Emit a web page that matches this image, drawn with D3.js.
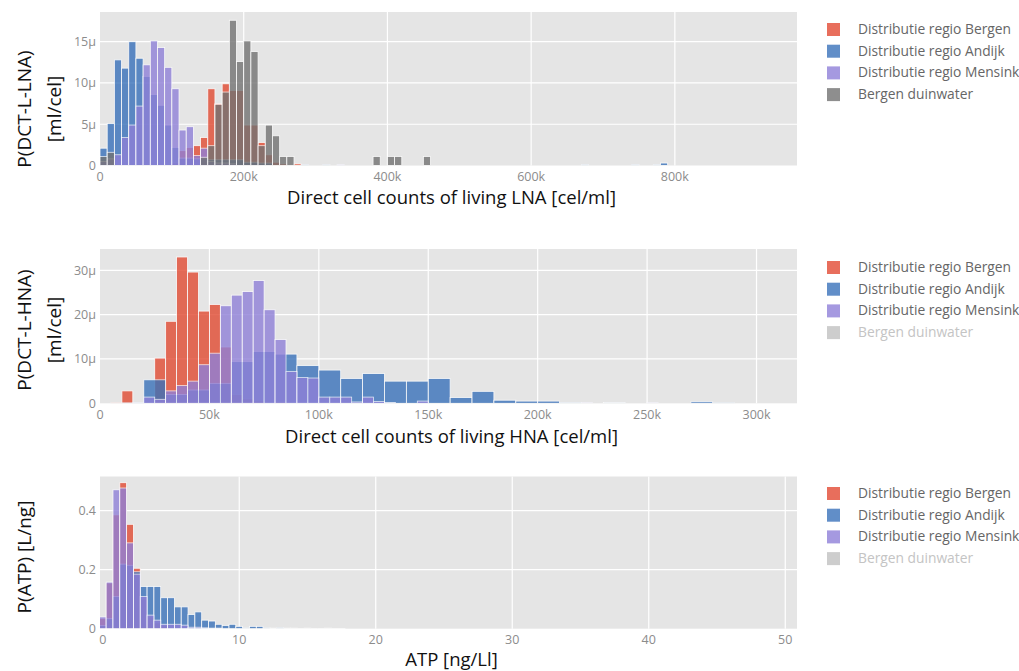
<!DOCTYPE html>
<html>
<head>
<meta charset="utf-8">
<script src="https://cdn.jsdelivr.net/npm/d3@7"></script>
<style>
  body { margin: 0; background: #fff; }
  #chart text { font-family: 'Open Sans', sans-serif; }
</style>
</head>
<body>
<div id="chart"></div>
<script>
// series names + colours (bergen, andijk, mensink, duinwater)
var seriesNames = ['Distributie regio Bergen', 'Distributie regio Andijk', 'Distributie regio Mensink', 'Bergen duinwater'];
var seriesColors = ['#E24A33', '#3A72BA', '#8F80D8', '#727272'];

// --- LNA, bins of 10k cel/ml starting at 0, density in micro (ml/cel)
var lnaBergen = [0, 0, 0, 0, 0, 0, 0, 0, 0, 0, 0.3, 1.8, 2.2, 2.4, 3.4, 9.3, 7.5, 9.9, 9.1, 9.1,
  4.9, 4.9, 2.8, 1.3, 0.4, 0.2, 0, 0.2];
var lnaAndijk = [2.1, 5.1, 12.8, 11.8, 15.0, 13.0, 10.8, 8.6, 7.3, 4.9, 2.2, 0.9, 0.9, 0.8, 0.8, 0.7, 0.7, 0.7, 0.7, 0.7,
  0.4, 0.4, 0.3, 0.3, 0, 0, 0, 0, 0.1, 0, 0, 0.1, 0, 0, 0, 0, 0, 0, 0, 0,
  0, 0, 0, 0, 0, 0, 0, 0, 0, 0, 0, 0, 0, 0, 0, 0, 0, 0, 0, 0,
  0, 0, 0, 0, 0, 0, 0, 0.1, 0, 0, 0, 0, 0, 0, 0.1, 0, 0, 0.1, 0.3];
var lnaMensink = [0.5, 0.8, 1.3, 3.4, 4.9, 7.2, 12.2, 15.1, 14.3, 11.9, 9.3, 4.3, 4.7, 1.2, 2.1, 0.5, 0.3, 0.3, 0.2, 0,
  0, 0, 0, 0, 0, 0, 0, 0, 0, 0, 0, 0, 0, 0.1];
var lnaDuin = [1.1, 1.6, 0, 0, 0, 0, 0, 0, 0, 0, 0, 0, 0, 0, 1.0, 2.4, 7.4, 8.9, 17.6, 12.6,
  15.1, 13.8, 2.4, 4.9, 3.6, 1.1, 1.1, 0, 0, 0, 0, 0, 0, 0, 0, 0, 0, 0, 1.1, 0,
  1.1, 1.1, 0, 0, 0, 1.1];

// --- HNA, Bergen and Mensink in 5k bins, Andijk in 10k bins, density in micro
var hnaBergen = [0, 0.1, 2.8, 0, 0, 10.2, 18.5, 33.0, 29.6, 20.8, 22.3, 12.7, 2.0, 1.0, 0.5, 0, 0.3];
var hnaAndijk = [0, 0.1, 5.3, 2.0, 3.0, 4.5, 9.4, 11.7, 11.1, 8.5, 7.5, 5.6, 6.7, 5.0, 5.0, 5.6, 1.3, 2.7, 0.7, 0.5,
  0.5, 0.15, 0, 0.2, 0, 0, 0, 0.35, 0.1];
var hnaMensink = [0, 0, 0, 0.1, 1.4, 0.9, 2.8, 4.0, 5.0, 8.7, 11.3, 22.0, 24.4, 25.2, 27.7, 21.1, 14.4, 7.2, 5.8, 5.7,
  1.4, 1.4, 1.4, 0.3, 1.4, 0.4, 0.2, 0, 0, 0.5, 0, 0, 0, 0, 0, 0, 0, 0, 0, 0,
  0, 0, 0, 0, 0.15, 0, 0, 0, 0, 0, 0.15];

// --- ATP, bins of 0.5 ng/l starting at -0.25
var atpBergen = [0.035, 0.155, 0.386, 0.495, 0.354, 0.205, 0.10, 0.04, 0.02, 0.01];
var atpAndijk = [0.011, 0.034, 0.109, 0.219, 0.215, 0.193, 0.143, 0.143, 0.143, 0.105, 0.105, 0.074, 0.074, 0.048, 0.057,
  0.029, 0.026, 0.015, 0.011, 0.015, 0.008, 0.003, 0.008, 0.008, 0.003, 0.002, 0.003, 0.002, 0.002, 0.001,
  0.002, 0.001, 0.001, 0.002, 0.001, 0.001];
var atpMensink = [0.040, 0.158, 0.471, 0.477, 0.291, 0.185, 0.109, 0.046, 0.029, 0.015, 0.015, 0.015, 0.012, 0.005,
  0.005, 0.003, 0.002, 0.002];

var lnaTicksX = [0, 200000, 400000, 600000, 800000];
var lnaTicksY = [0, 5, 10, 15];
var hnaTicksX = [0, 50000, 100000, 150000, 200000, 250000, 300000];
var hnaTicksY = [0, 10, 20, 30];
var atpTicksX = [0, 10, 20, 30, 40, 50];
var atpTicksY = [0, 0.2, 0.4];

var W = 1019, H = 671;
var svg = d3.select('#chart').append('svg').attr('width', W).attr('height', H);

var panels = [
  {
    top: 12, bottom: 165.5, xDomain: [0, 970000], yDomain: [0, 18.6],
    xTicks: lnaTicksX, yTicks: lnaTicksY,
    xFmt: function(d) { return d === 0 ? '0' : d / 1000 + 'k'; },
    yFmt: function(d) { return d === 0 ? '0' : d + 'μ'; },
    series: [
      { data: lnaBergen, start: 0, width: 10000 },
      { data: lnaAndijk, start: 0, width: 10000 },
      { data: lnaMensink, start: 0, width: 10000 },
      { data: lnaDuin, start: 0, width: 10000 }
    ],
    hidden: [],
    xTitle: 'Direct cell counts of living LNA [cel/ml]', xTitleY: 204,
    yTitle: ['P(DCT-L-LNA)', '[ml/cel]'], yTitleC: 109,
    legendY: 29
  },
  {
    top: 249, bottom: 403.3, xDomain: [0, 318500], yDomain: [0, 34.8],
    xTicks: hnaTicksX, yTicks: hnaTicksY,
    xFmt: function(d) { return d === 0 ? '0' : d / 1000 + 'k'; },
    yFmt: function(d) { return d === 0 ? '0' : d + 'μ'; },
    series: [
      { data: hnaBergen, start: 0, width: 5000 },
      { data: hnaAndijk, start: 0, width: 10000 },
      { data: hnaMensink, start: 0, width: 5000 }
    ],
    hidden: [3],
    xTitle: 'Direct cell counts of living HNA [cel/ml]', xTitleY: 443,
    yTitle: ['P(DCT-L-HNA)', '[ml/cel]'], yTitleC: 330,
    legendY: 267
  },
  {
    top: 476.5, bottom: 628.7, xDomain: [-0.2, 50.86], yDomain: [0, 0.516],
    xTicks: atpTicksX, yTicks: atpTicksY,
    xFmt: function(d) { return d; },
    yFmt: function(d) { return d; },
    series: [
      { data: atpBergen, start: -0.25, width: 0.5 },
      { data: atpAndijk, start: -0.25, width: 0.5 },
      { data: atpMensink, start: -0.25, width: 0.5 }
    ],
    hidden: [3],
    xTitle: 'ATP [ng/Ll]', xTitleY: 666,
    yTitle: ['P(ATP) [L/ng]'], yTitleC: 557,
    legendY: 493
  }
];

var left = 100, right = 797;

panels.forEach(function(p, pi) {
  var x = d3.scaleLinear().domain(p.xDomain).range([left, right]);
  var y = d3.scaleLinear().domain(p.yDomain).range([p.bottom, p.top]);
  var clipId = 'clip' + pi;

  svg.append('clipPath').attr('id', clipId)
    .append('rect')
    .attr('x', left).attr('y', p.top)
    .attr('width', right - left).attr('height', p.bottom - p.top);

  svg.append('rect')
    .attr('x', left).attr('y', p.top)
    .attr('width', right - left).attr('height', p.bottom - p.top)
    .attr('fill', '#E5E5E5');

  // grid
  var grid = svg.append('g').attr('stroke', '#fff').attr('stroke-width', 1.2);
  grid.selectAll('line.gx')
    .data(p.xTicks.filter(function(d) { return d !== 0; }))
    .enter().append('line')
    .attr('x1', x).attr('x2', x)
    .attr('y1', p.top).attr('y2', p.bottom);
  grid.selectAll('line.gy')
    .data(p.yTicks.filter(function(d) { return d !== 0; }))
    .enter().append('line')
    .attr('y1', y).attr('y2', y)
    .attr('x1', left).attr('x2', right);

  // bars, one overlay layer per series
  var plot = svg.append('g').attr('clip-path', 'url(#' + clipId + ')');
  p.series.forEach(function(s, si) {
    var bins = s.data.map(function(v, i) {
      return { lo: s.start + i * s.width, hi: s.start + (i + 1) * s.width, v: v };
    }).filter(function(b) { return b.v > 0; });
    plot.append('g')
      .attr('opacity', 0.8)
      .selectAll('rect')
      .data(bins)
      .enter().append('rect')
      .attr('x', function(b) { return x(b.lo); })
      .attr('width', function(b) { return x(b.hi) - x(b.lo); })
      .attr('y', function(b) { return y(b.v); })
      .attr('height', function(b) { return y(0) - y(b.v); })
      .attr('fill', seriesColors[si])
      .attr('stroke', '#fff')
      .attr('stroke-width', 0.8);
  });

  // tick labels
  svg.append('g').selectAll('text')
    .data(p.xTicks)
    .enter().append('text')
    .attr('x', x)
    .attr('y', p.bottom + 15.5)
    .attr('text-anchor', 'middle')
    .attr('font-size', 12.5)
    .attr('fill', '#8c8c8c')
    .text(p.xFmt);
  svg.append('g').selectAll('text')
    .data(p.yTicks)
    .enter().append('text')
    .attr('x', 96)
    .attr('y', function(d) { return y(d) + 4.5; })
    .attr('text-anchor', 'end')
    .attr('font-size', 12.5)
    .attr('fill', '#8c8c8c')
    .text(p.yFmt);

  // axis titles
  svg.append('text')
    .attr('x', (left + right) / 2 + 3)
    .attr('y', p.xTitleY)
    .attr('text-anchor', 'middle')
    .attr('font-size', 18.5)
    .attr('fill', '#111')
    .text(p.xTitle);
  p.yTitle.forEach(function(t, li) {
    var cx = 31 + li * 30;
    svg.append('text')
      .attr('transform', 'translate(' + cx + ',' + p.yTitleC + ') rotate(-90)')
      .attr('text-anchor', 'middle')
      .attr('font-size', 19)
      .attr('fill', '#111')
      .text(t);
  });

  // legend
  var leg = svg.append('g').attr('transform', 'translate(827,' + p.legendY + ')');
  var items = leg.selectAll('g')
    .data(seriesNames)
    .enter().append('g')
    .attr('transform', function(d, i) { return 'translate(0,' + i * 21.7 + ')'; });
  items.append('rect')
    .attr('x', 0).attr('y', -6)
    .attr('width', 13).attr('height', 13)
    .attr('fill', function(d, i) { return p.hidden.indexOf(i) >= 0 ? '#c8c8c8' : seriesColors[i]; })
    .attr('opacity', function(d, i) { return p.hidden.indexOf(i) >= 0 ? 0.9 : 0.8; });
  items.append('text')
    .attr('x', 31).attr('y', 5)
    .attr('font-size', 13.8)
    .attr('fill', function(d, i) { return p.hidden.indexOf(i) >= 0 ? '#c4c4c4' : '#666'; })
    .text(function(d) { return d; });
});
</script>
</body>
</html>
